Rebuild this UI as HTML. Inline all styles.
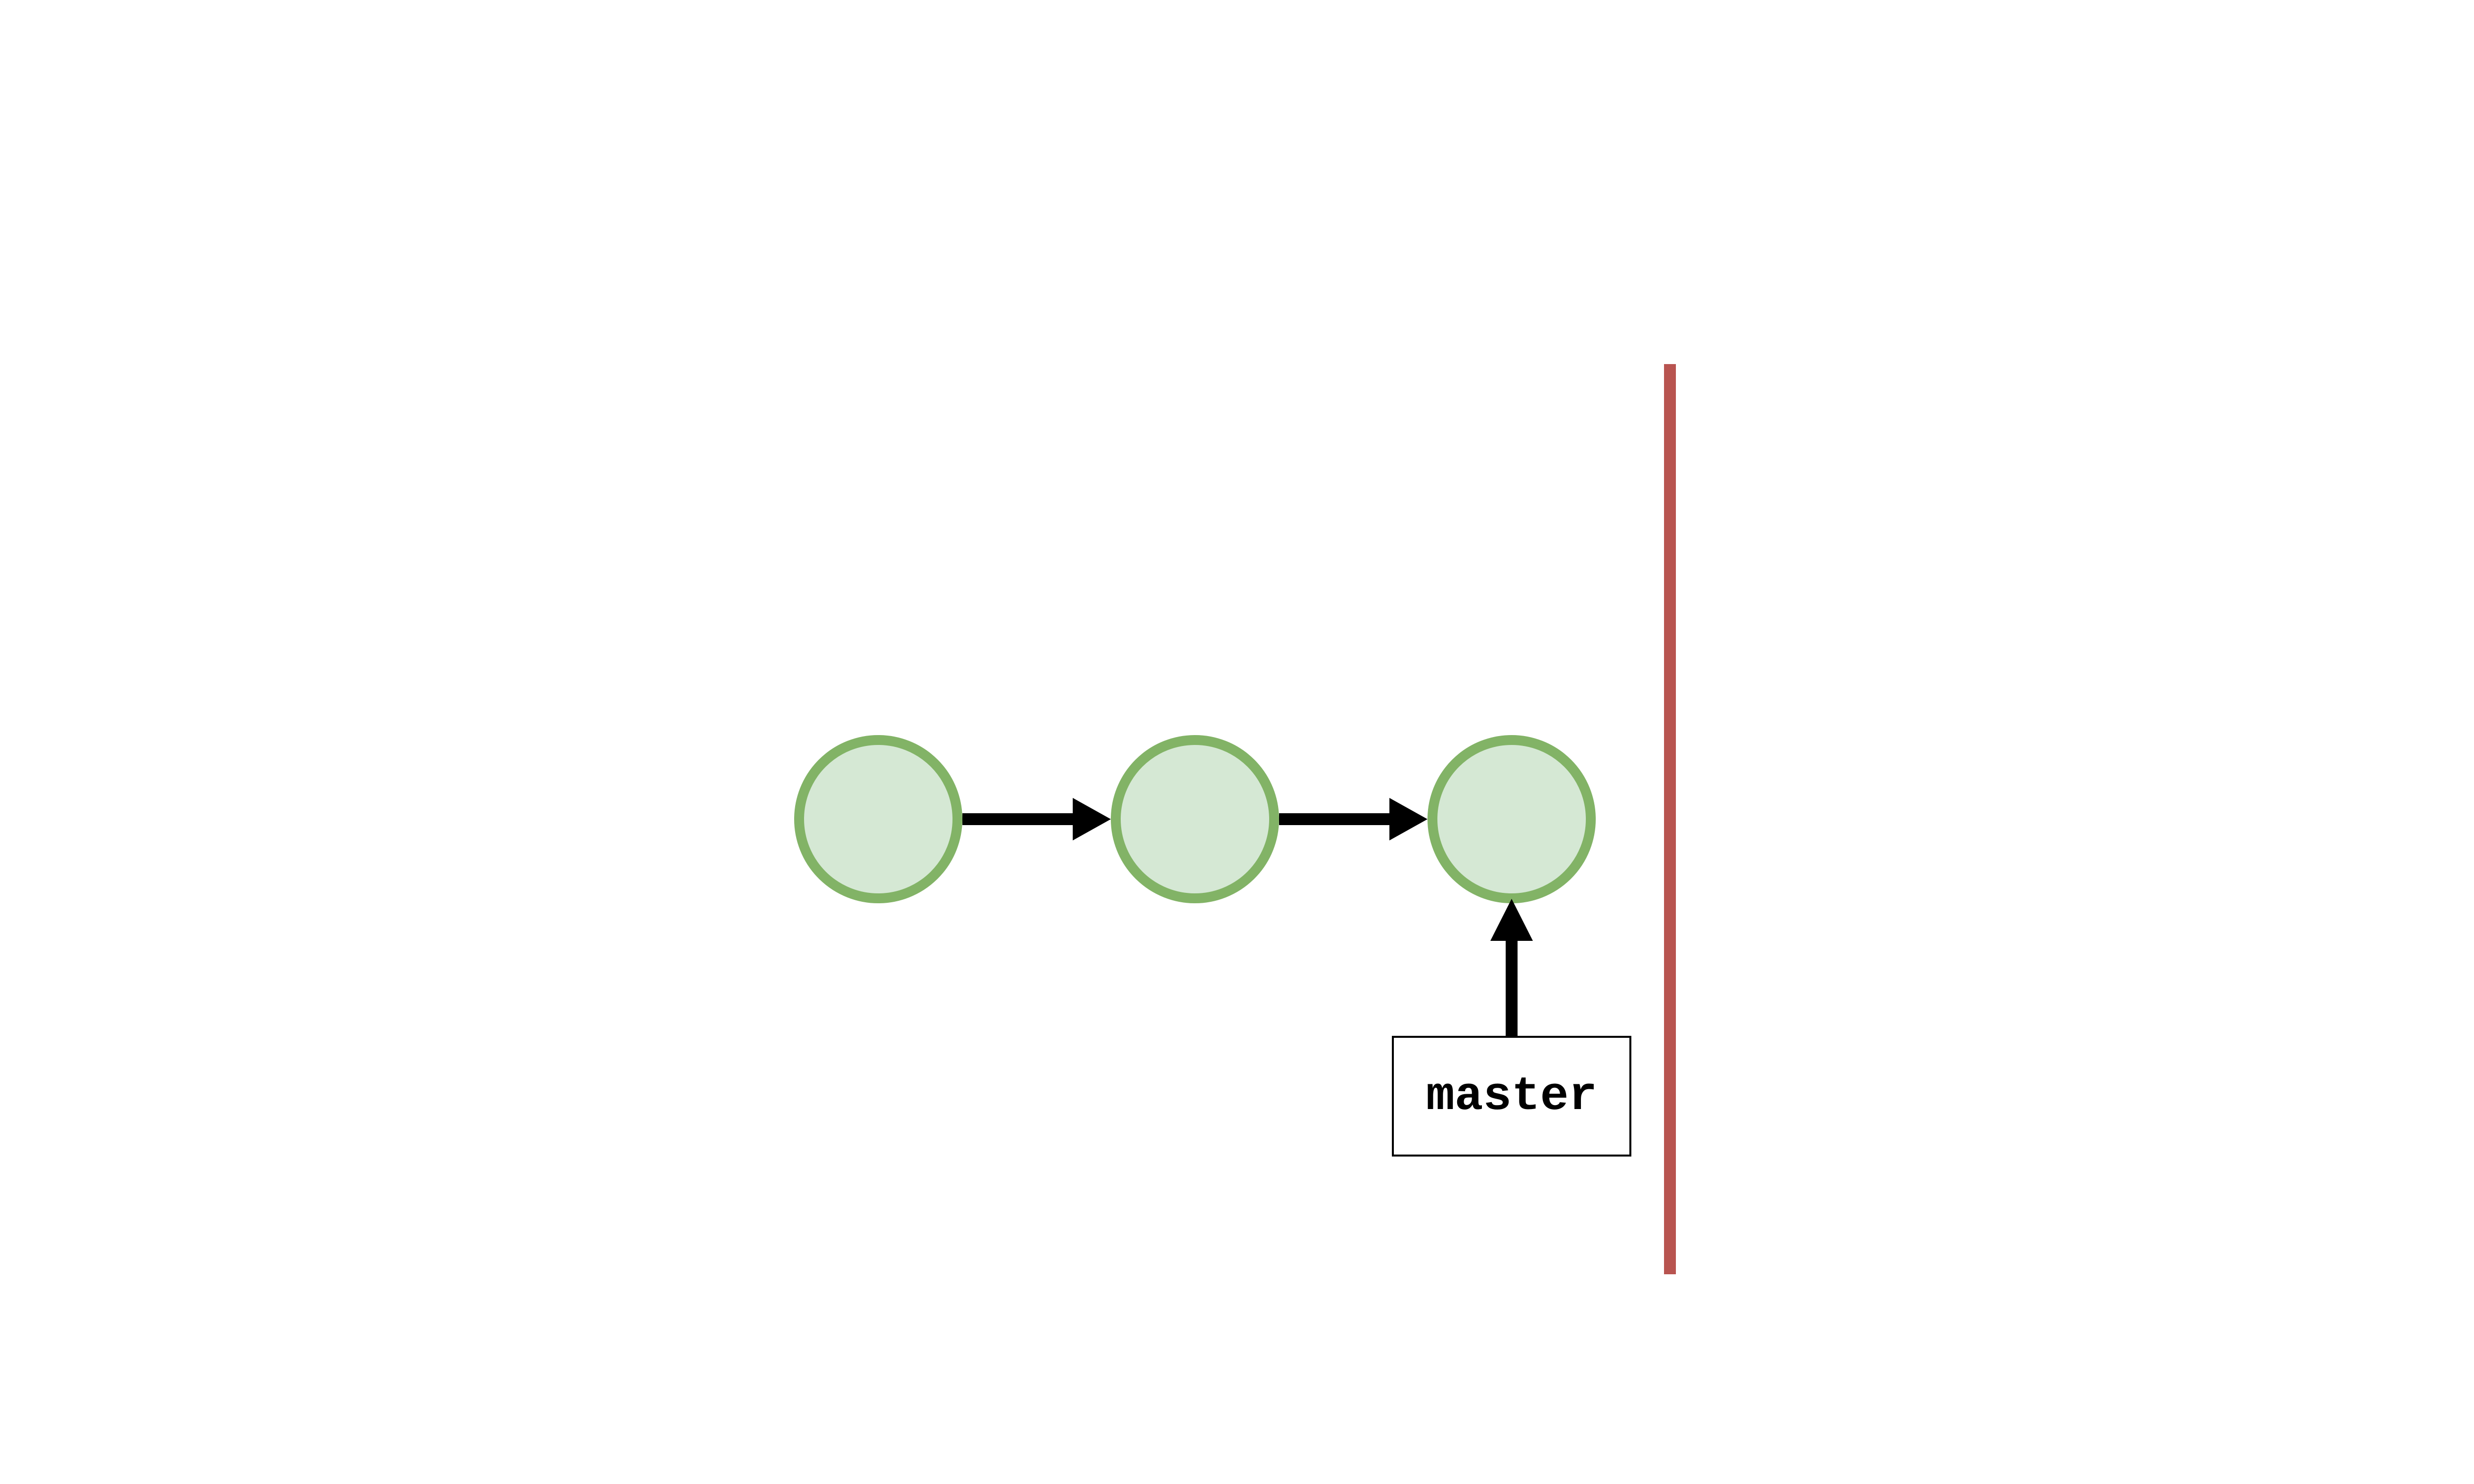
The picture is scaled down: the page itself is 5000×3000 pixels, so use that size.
<!DOCTYPE html>
<html><head><meta charset="utf-8"><style>html,body{margin:0;padding:0;background:#fff;}svg{display:block;}</style></head>
<body>
<svg width="5000" height="3000" viewBox="0 0 5000 3000" xmlns="http://www.w3.org/2000/svg">
<rect width="5000" height="3000" fill="#fff"/>
<g fill="#d5e8d4" stroke="#82b366" stroke-width="20">
<circle cx="1775" cy="1656" r="160"/>
<circle cx="2415" cy="1656" r="160"/>
<circle cx="3055" cy="1656" r="160"/>
</g>
<g fill="#000">
<rect x="1945" y="1644" width="228" height="24"/>
<polygon points="2168,1613 2245,1656 2168,1699"/>
<rect x="2585" y="1644" width="228" height="24"/>
<polygon points="2808,1613 2885,1656 2808,1699"/>
<rect x="3043" y="1897" width="24" height="199"/>
<polygon points="3012,1902 3055,1817 3098,1902"/>
</g>
<rect x="3363" y="736" width="24" height="1840" fill="#b85450"/>
<rect x="2815" y="2096" width="480" height="240" fill="#fff" stroke="#000" stroke-width="4"/>
<text x="3055" y="2242" text-anchor="middle" font-family="Liberation Mono, monospace" font-weight="bold" font-size="96" fill="#000">master</text>
</svg>
</body></html>
